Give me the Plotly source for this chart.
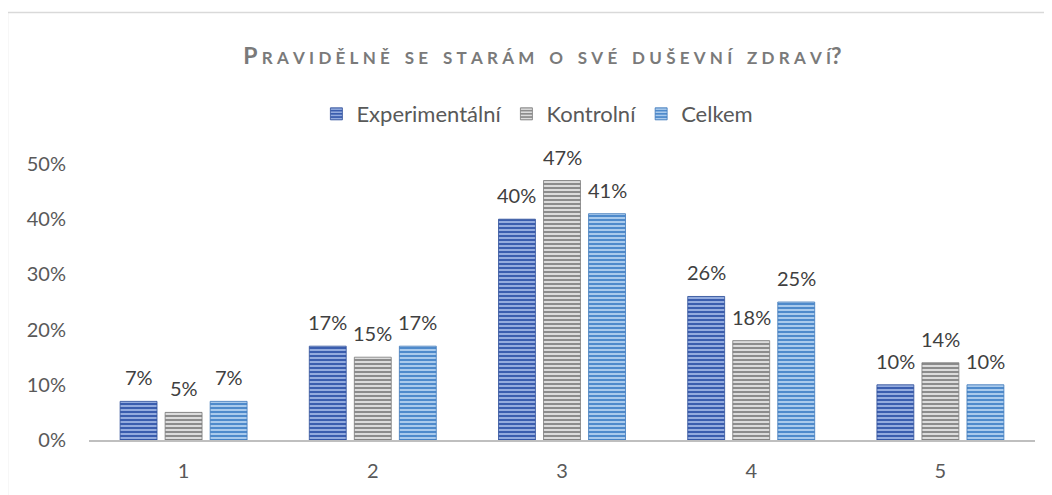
import plotly.graph_objects as go

categories = ["1", "2", "3", "4", "5"]
series_names = ["Experimentální", "Kontrolní", "Celkem"]
experimentalni = [0.07, 0.17, 0.40, 0.26, 0.10]
kontrolni = [0.05, 0.15, 0.47, 0.18, 0.14]
celkem = [0.07, 0.17, 0.41, 0.25, 0.10]
y_ticks = [0, 0.1, 0.2, 0.3, 0.4, 0.5]
y_tick_labels = ["0%", "10%", "20%", "30%", "40%", "50%"]

series_values = [experimentalni, kontrolni, celkem]
styles = [
    dict(bg="#3A5DAE", fg="#9DB4E4", line="#2F4F99"),
    dict(bg="#8C8C8C", fg="#E6E6E6", line="#7A7A7A"),
    dict(bg="#4E8ACB", fg="#B4D2F0", line="#3F79BA"),
]

FONT = "Lato"
BARGAP = 0.286
fig = go.Figure()
annotations = []
n = len(series_names)
for i, (name, vals, st) in enumerate(zip(series_names, series_values, styles)):
    fig.add_trace(go.Bar(
        name=name, x=categories, y=vals,
        marker=dict(
            color=st["bg"],
            line=dict(color=st["line"], width=0.8),
            pattern=dict(shape="-", bgcolor=st["bg"], fgcolor=st["fg"],
                         size=4, solidity=0.45, fillmode="replace"),
        ),
    ))
    off = (i - (n - 1) / 2) * (1 - BARGAP) / n
    for k, v in enumerate(vals):
        annotations.append(dict(
            x=k + off, y=v, xref="x", yref="y", text=f"{round(v*100)}%",
            showarrow=False, yanchor="middle", yshift=24,
            font=dict(family=FONT, size=20, color="#404040"),
        ))

GAP = "\u2009\u2009"
def spaced(s):
    return GAP.join(list(s)).replace(GAP + " " + GAP, "\u2003\u2009")

title_html = ("<b><span style='font-size:23px'>P</span>" + GAP
              + spaced("RAVIDĚLNĚ SE STARÁM O SVÉ DUŠEVNÍ ZDRAVÍ")
              + "<span style='font-size:23px'>?</span></b>")

fig.update_layout(
    width=1044, height=487,
    margin=dict(l=81, r=17, t=156, b=55),
    paper_bgcolor="white", plot_bgcolor="white",
    barmode="group", bargap=BARGAP, bargroupgap=0.18,
    font=dict(family=FONT, color="#595959"),
    title=dict(text=title_html, x=0.512, xanchor="center", y=0.897, yanchor="middle",
               font=dict(family=FONT, size=17, color="#7A7A7A")),
    legend=dict(orientation="h", x=0.474, xanchor="center", y=1.181, yanchor="middle",
                font=dict(family=FONT, size=22, color="#595959"),
                itemwidth=30, traceorder="normal"),
    showlegend=True,
    annotations=annotations,
    xaxis=dict(showline=True, linecolor="#BFBFBF", linewidth=2, showgrid=False,
               ticks="", tickfont=dict(family=FONT, size=20, color="#595959"),
               ticklabelstandoff=12, fixedrange=True),
    yaxis=dict(range=[0, 0.5], tickvals=y_ticks, ticktext=y_tick_labels,
               showgrid=False, zeroline=False, showline=False, ticks="",
               tickfont=dict(family=FONT, size=20, color="#595959"),
               ticklabelstandoff=22, fixedrange=True),
    shapes=[
        dict(type="line", xref="paper", yref="paper", x0=-0.0862, x1=1.2, y0=1.549, y1=1.549,
             line=dict(color="#D9D9D9", width=1.5)),
        dict(type="line", xref="paper", yref="paper", x0=-0.0862, x1=-0.0862, y0=1.549, y1=-0.5,
             line=dict(color="#D9D9D9", width=1.5)),
    ],
)

fig.write_html("out.html")
